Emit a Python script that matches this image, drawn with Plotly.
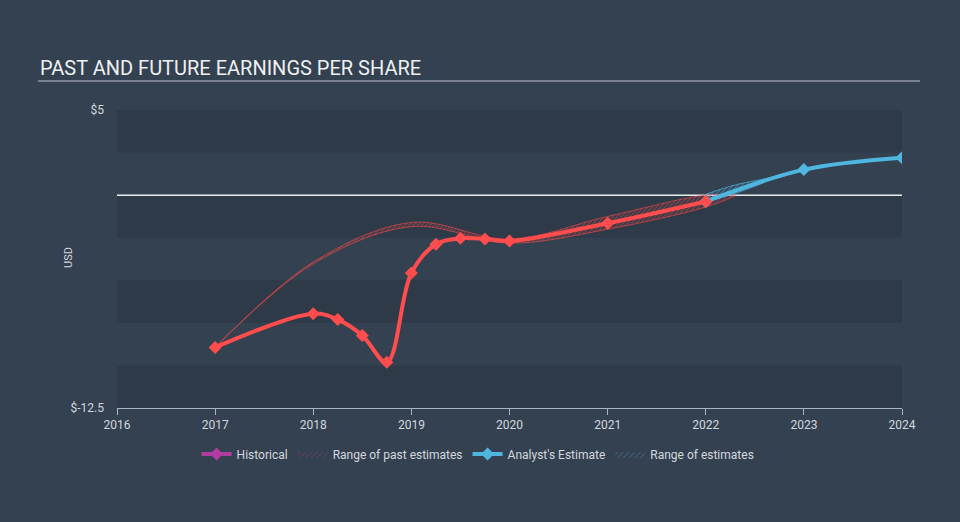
import plotly.graph_objects as go

# EPS history (red) and analyst consensus (blue)
hist_x = [2017, 2018, 2018.25, 2018.5, 2018.75, 2019, 2019.25, 2019.5, 2019.75, 2020, 2021, 2022]
hist_y = [-8.94, -6.96, -7.31, -8.24, -9.82, -4.57, -2.88, -2.53, -2.58, -2.70, -1.65, -0.37]

est_x = [2022, 2023, 2024]
est_y = [-0.37, 1.50, 2.20]

# range of past estimates (upper / lower edge)
past_rng_x = [2017, 2018, 2019, 2020, 2021, 2022, 2022.3]
past_rng_hi = [-8.94, -3.93, -1.60, -2.58, -1.25, 0.00, 0.00]
past_rng_lo = [-8.94, -4.03, -1.85, -2.82, -2.00, -0.70, -0.05]

# range of analyst estimates
fut_rng_x = [2022, 2022.3, 2022.6]
fut_rng_hi = [0.05, 0.60, 0.95]
fut_rng_lo = [-0.40, 0.10, 0.75]

y_ticks = [5, -12.5]
y_tick_text = ["$5", "$-12.5"]
x_ticks = list(range(2016, 2025))

RED = "#ff4d4d"
BLUE = "#4fb6e0"
BG = "#344150"
BAND = "#2e3a48"
TXT = "#d3d8de"

PLOT_TOP, PLOT_BOTTOM = 110, 408
PLOT_H = PLOT_BOTTOM - PLOT_TOP

fig = go.Figure()

# hatched ranges
fig.add_trace(go.Scatter(x=past_rng_x, y=past_rng_lo, mode="lines", line=dict(color="rgba(230,70,70,0.7)", width=1, shape="spline"),
                         showlegend=False, hoverinfo="skip"))
fig.add_trace(go.Scatter(x=past_rng_x, y=past_rng_hi, mode="lines", line=dict(color="rgba(230,70,70,0.7)", width=1, shape="spline"),
                         fill="tonexty", fillcolor="rgba(0,0,0,0)",
                         fillpattern=dict(shape="/", fgcolor="rgba(235,72,72,0.9)", bgcolor="rgba(0,0,0,0)", size=3, solidity=0.45),
                         showlegend=False, hoverinfo="skip"))
fig.add_trace(go.Scatter(x=fut_rng_x, y=fut_rng_lo, mode="lines", line=dict(color="rgba(79,182,224,0.7)", width=1, shape="spline"),
                         showlegend=False, hoverinfo="skip"))
fig.add_trace(go.Scatter(x=fut_rng_x, y=fut_rng_hi, mode="lines", line=dict(color="rgba(79,182,224,0.7)", width=1, shape="spline"),
                         fill="tonexty", fillcolor="rgba(0,0,0,0)",
                         fillpattern=dict(shape="/", fgcolor="rgba(79,182,224,0.95)", bgcolor="rgba(0,0,0,0)", size=3, solidity=0.45),
                         showlegend=False, hoverinfo="skip"))

# main lines
fig.add_trace(go.Scatter(x=est_x, y=est_y, mode="lines+markers",
                         line=dict(color=BLUE, width=4, shape="spline"),
                         marker=dict(symbol="diamond", size=10, color=BLUE),
                         showlegend=False))
fig.add_trace(go.Scatter(x=hist_x, y=hist_y, mode="lines+markers",
                         line=dict(color=RED, width=4, shape="spline"),
                         marker=dict(symbol="diamond", size=10, color=RED),
                         showlegend=False))

# legend entries
fig.add_trace(go.Scatter(x=[None], y=[None], mode="lines+markers", name="Historical",
                         line=dict(color="#b03ca0", width=4), marker=dict(symbol="diamond", size=10, color="#b03ca0")))
fig.add_trace(go.Scatter(x=[None], y=[None], mode="lines", name="Range of past estimates", fill="toself",
                         line=dict(width=0), fillcolor="rgba(0,0,0,0)",
                         fillpattern=dict(shape="/", fgcolor="#b03ca0", bgcolor="rgba(0,0,0,0)", size=4)))
fig.add_trace(go.Scatter(x=[None], y=[None], mode="lines+markers", name="Analyst's Estimate",
                         line=dict(color=BLUE, width=4), marker=dict(symbol="diamond", size=10, color=BLUE)))
fig.add_trace(go.Scatter(x=[None], y=[None], mode="lines", name="Range of estimates", fill="toself",
                         line=dict(width=0), fillcolor="rgba(0,0,0,0)",
                         fillpattern=dict(shape="/", fgcolor=BLUE, bgcolor="rgba(0,0,0,0)", size=4)))

# alternating bands + zero line
shapes = []
for lo, hi in [(2.5, 5), (-2.5, 0), (-7.5, -5), (-12.5, -10)]:
    shapes.append(dict(type="rect", xref="paper", yref="y", x0=0, x1=1, y0=lo, y1=hi,
                       fillcolor=BAND, line=dict(width=0), layer="below"))
shapes.append(dict(type="line", xref="paper", yref="y", x0=0, x1=1, y0=0, y1=0,
                   line=dict(color="#e8ebee", width=1.5), layer="below"))
# title underline
shapes.append(dict(type="line", xref="paper", yref="paper", x0=(38 - 117) / 785, x1=(920 - 117) / 785,
                   y0=1 + (PLOT_TOP - 81) / PLOT_H, y1=1 + (PLOT_TOP - 81) / PLOT_H,
                   line=dict(color="#b9c0c8", width=1.2)))

fig.update_layout(
    width=960, height=522,
    margin=dict(l=117, r=58, t=PLOT_TOP, b=522 - PLOT_BOTTOM),
    paper_bgcolor=BG, plot_bgcolor=BG,
    font=dict(family="Roboto, Open Sans, sans-serif", color=TXT, size=12),
    shapes=shapes,
    showlegend=True,
    legend=dict(orientation="h", traceorder="normal", x=0.46, xanchor="center", y=-(454 - PLOT_BOTTOM) / PLOT_H,
                yanchor="middle", font=dict(size=12, color=TXT), bgcolor="rgba(0,0,0,0)",
                itemwidth=30, tracegroupgap=0),
    annotations=[
        dict(text="PAST AND FUTURE EARNINGS PER SHARE", xref="paper", yref="paper",
             x=(38 - 117) / 785, y=1 + (PLOT_TOP - 68) / PLOT_H, xanchor="left", yanchor="middle",
             showarrow=False, font=dict(size=20, color="#eef0f2")),
        dict(text="USD", xref="paper", yref="paper", x=(68 - 117) / 785, y=(PLOT_BOTTOM - 258) / PLOT_H,
             xanchor="center", yanchor="middle", textangle=-90, showarrow=False,
             font=dict(size=11, color=TXT)),
    ],
)
fig.update_xaxes(range=[2016, 2024], tickvals=x_ticks, ticktext=[str(v) for v in x_ticks],
                 showgrid=False, zeroline=False, showline=True, linecolor="#aab6c3", linewidth=1,
                 ticks="outside", ticklen=6, tickcolor="#aab6c3", tickfont=dict(size=12, color=TXT))
fig.update_yaxes(range=[-12.5, 5], tickvals=y_ticks, ticktext=y_tick_text,
                 showgrid=False, zeroline=False, showline=False, ticks="", ticklabelstandoff=12,
                 tickfont=dict(size=12, color=TXT))

fig.write_html("out.html", config={"displayModeBar": False},
               post_script="document.body.style.margin='0';")
